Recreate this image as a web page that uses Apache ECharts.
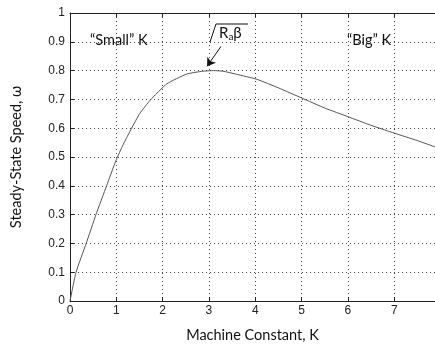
<!DOCTYPE html>
<html>
<head>
<meta charset="utf-8">
<script src="https://cdn.jsdelivr.net/npm/echarts@6/dist/echarts.min.js"></script>
<style>
  html, body { margin: 0; padding: 0; background: #fff; }
  #chart { width: 435px; height: 348px; }
</style>
</head>
<body>
<div id="chart"></div>
<script>
// points
const machineK = [0, 0.13, 0.35, 0.56, 0.79, 0.99, 1.15, 1.33, 1.51, 1.73, 2.09, 2.52, 2.87, 3.1, 3.3, 3.6, 4.03, 4.5, 5.0, 5.5, 6.0, 6.5, 7.0, 7.5, 7.88];
const speed = [0, 0.10, 0.20, 0.30, 0.40, 0.487, 0.544, 0.60, 0.652, 0.697, 0.754, 0.788, 0.798, 0.80, 0.798, 0.787, 0.77, 0.74, 0.705, 0.67, 0.64, 0.61, 0.583, 0.557, 0.535];
const xMax = 7.88;

const chart = echarts.init(document.getElementById("chart"));

const axisFont = { fontFamily: "Liberation Sans", fontSize: 12, color: "#222" };
const titleFont = { fontFamily: "Lato", fontSize: 14.5, color: "#111" };
const gridLine = { show: true, lineStyle: { color: "#444", type: [1, 3], width: 1 } };

const option = {
  animation: false,
  grid: { left: 70, right: 0, top: 13, bottom: 42 },
  xAxis: [
    {
      type: "value",
      min: 0,
      max: xMax,
      interval: 1,
      name: "Machine Constant, K",
      nameLocation: "middle",
      nameGap: 27,
      nameTextStyle: titleFont,
      axisLine: { lineStyle: { color: "#222", width: 1 } },
      axisTick: { inside: true, length: 4, lineStyle: { color: "#222" } },
      axisLabel: Object.assign({ margin: 4, showMaxLabel: false }, axisFont),
      splitLine: gridLine,
    },
    {
      type: "value",
      position: "top",
      min: 0,
      max: xMax,
      interval: 1,
      axisLine: { show: true, lineStyle: { color: "#222", width: 1 } },
      axisTick: { inside: true, length: 4, lineStyle: { color: "#222" } },
      axisLabel: { show: false },
      splitLine: { show: false },
    },
  ],
  yAxis: {
    type: "value",
    min: 0,
    max: 1,
    interval: 0.1,
    name: "Steady-State Speed, ω",
    nameLocation: "middle",
    nameGap: 46,
    nameTextStyle: titleFont,
    axisLine: { show: true, lineStyle: { color: "#222", width: 1 } },
    axisTick: { inside: true, length: 4, lineStyle: { color: "#222" } },
    axisLabel: Object.assign({ margin: 5 }, axisFont),
    splitLine: gridLine,
  },
  series: [
    {
      type: "line",
      data: machineK.map((k, i) => [k, speed[i]]),
      symbol: "none",
      smooth: 0.15,
      lineStyle: { color: "#555", width: 1 },
      markLine: {
        silent: true,
        symbol: ["none", "arrow"],
        symbolSize: 8,
        label: { show: false },
        lineStyle: { color: "#111", type: "solid", width: 1 },
        data: [[{ coord: [3.26, 0.884] }, { coord: [2.96, 0.815] }]],
      },
    },
  ],
  graphic: [
    { type: "text", left: 90, top: 33, style: { text: "\u201cSmall\u201d K", font: "14.5px Lato", fill: "#111" } },
    { type: "text", left: 347, top: 33, style: { text: "\u201cBig\u201d K", font: "14.5px Lato", fill: "#111" } },
    {
      type: "polyline",
      shape: { points: [[210, 42], [216, 24], [248, 24]] },
      style: { stroke: "#111", lineWidth: 1, fill: null },
    },
    {
      type: "text",
      left: 219,
      top: 26,
      style: {
        text: "{r|R}{s|a}{r|β}",
        rich: {
          r: { font: "15px Lato", fill: "#111" },
          s: { font: "10px Lato", fill: "#111", verticalAlign: "bottom", padding: [6, 0, 0, 0] },
        },
      },
    },
  ],
};

chart.setOption(option);
</script>
</body>
</html>
